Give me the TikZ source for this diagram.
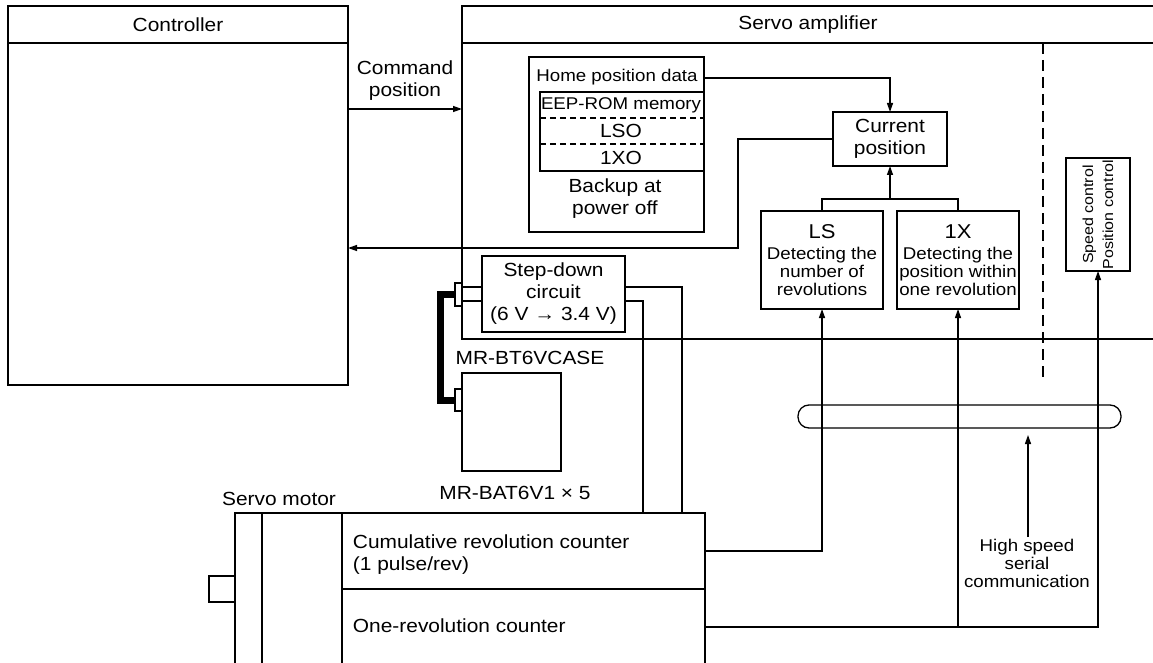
\documentclass[tikz,border=0pt]{standalone}
\usepackage{fontspec}
\setmainfont{Liberation Sans}[FakeStretch=1.1]
\usetikzlibrary{arrows.meta}
\begin{document}
\begin{tikzpicture}[x=1pt,y=-1pt,
  line width=1.3pt,
  box/.style={draw, line width=1.3pt, inner sep=0pt, outer sep=0pt, anchor=north west, align=center},
  big/.style={font=\fontsize{19}{22}\selectfont, align=center},
  small/.style={font=\fontsize{17}{18}\selectfont, align=center},
  arr/.style={-{Triangle[length=9pt,width=6pt]}},
  dsh/.style={line width=1.1pt, dash pattern=on 6pt off 4pt},
  vdsh/.style={line width=1.1pt, dash pattern=on 11pt off 6pt}]
\useasboundingbox (0,0) rectangle (1153,663);

% Controller
\node[box, minimum width=340pt, minimum height=379pt] (ctrl) at (8,6) {};
\draw (8,43) -- (348,43);
\node[big] (ctrltxt) at (178,25) {Controller};

% Servo amplifier frame
\coordinate (ampTL) at (462,6);
\coordinate (ampBL) at (462,339);
\draw (1153,6) -- (ampTL) -- (ampBL) -- (1153,339);
\draw (462,43) -- (1153,43);
\node[big] (amptxt) at (808,25) {Servo amplifier};

% Command position
\coordinate (cmdEnd) at (462,109);
\draw[arr] (ctrl.east |- cmdEnd) -- (cmdEnd);
\node[big] (cmdtxt) at (405,81) {Command\\position};

% Home position data box
\node[box, minimum width=175pt, minimum height=175pt] (home) at (529,57) {};
\node[small] (hpd) at (617,77) {Home position data};
\node[box, minimum width=164pt, minimum height=79pt] (eep) at (540,92) {};
\draw[dsh] (540,118) -- (704,118);
\draw[dsh] (540,144) -- (704,144);
\node[small] (eeptxt) at (621,105) {EEP-ROM memory};
\node[big] (lsotxt) at (621,131) {LSO};
\node[big] (xotxt) at (621,158) {1XO};
\node[big] (bkp) at (615,199) {Backup at\\power off};

% Current position
\node[box, big, minimum width=114pt, minimum height=54pt] (cur) at (833,112) {Current\\position};
\coordinate (hpdR) at (704,78);
\draw[arr] (hpdR) -| (cur.north);
\coordinate (retBend) at (738,139);
\coordinate (retEnd) at (348,248);
\draw[arr] (cur.west) -- (retBend) |- (retEnd);

% LS and 1X boxes
\node[box, small, minimum width=122pt, minimum height=98pt] (ls) at (761,211)
  {{\fontsize{20}{21}\selectfont LS}\\[3pt]Detecting the\\number of\\revolutions};
\node[box, small, minimum width=122pt, minimum height=98pt] (xone) at (897,211)
  {{\fontsize{20}{21}\selectfont 1X}\\[3pt]Detecting the\\position within\\one revolution};
\coordinate (join) at (890,199);
\draw (ls.north) |- (join) -| (xone.north);
\draw[arr] (join) -- (cur.south);

% Speed / position control
\node[box, minimum width=64pt, minimum height=113pt] (spd) at (1066,158) {};
\node[rotate=90, font=\fontsize{14.5}{20}\selectfont, align=center] (spdtxt) at (spd.center) {Speed control\\Position control};

% dashed separator
\coordinate (dshTop) at (1043,43);
\coordinate (dshBot) at (1043,383);
\draw[vdsh] (dshTop) -- (dshBot);

% Step-down circuit and battery case
\node[box, big, minimum width=143pt, minimum height=76pt] (sd) at (482,256) {Step-down\\circuit\\(6 V → 3.4 V)};
\node[box, minimum width=99pt, minimum height=98pt] (bat) at (462,373) {};
\draw[line width=7pt] (458,294.5) -- (440,294.5) -- (440,400) -- (458,400);
\node[box, fill=white, minimum width=7pt, minimum height=23pt] (conA) at (455,283) {};
\node[box, fill=white, minimum width=7pt, minimum height=22pt] (conB) at (455,389) {};
\coordinate (wA1) at (462,287);
\coordinate (wA2) at (462,301);
\draw (wA1) -- (sd.west |- wA1);
\draw (wA2) -- (sd.west |- wA2);
\coordinate (mTop1) at (682,513);
\coordinate (mTop2) at (643,513);
\draw (sd.east |- wA1) -| (mTop1);
\draw (sd.east |- wA2) -| (mTop2);
\node[big] (casetxt) at (530,358) {MR-BT6VCASE};
\node[big] (battxt) at (515,493) {MR-BAT6V1 × 5};

% Servo motor
\node[big] (smtxt) at (279,499) {Servo motor};
\draw (235,663) -- (235,513) -- (705,513) -- (705,663);
\draw (262,513) -- (262,663);
\draw (342,513) -- (342,663);
\draw (342,589) -- (705,589);
\node[box, minimum width=26pt, minimum height=26pt] (shaft) at (209,576) {};
\node[big, anchor=west, align=left] (cumtxt) at (349,555) {Cumulative revolution counter\\(1 pulse/rev)};
\node[big, anchor=west] (onetxt) at (349,626) {One-revolution counter};

% signal wires
\coordinate (cumR) at (705,551);
\coordinate (oneR) at (705,627);
\draw[arr] (cumR) -| (ls.south);
\draw[arr] (oneR) -| (spd.south);
\draw[arr] (xone.south |- oneR) -- (xone.south);

% serial cable
\node[draw, line width=1.3pt, rounded corners=11pt, minimum width=323pt, minimum height=23pt, inner sep=0pt, outer sep=0pt, anchor=north west] (cable) at (798,405) {};
\node[small, inner sep=1pt] (hstxt) at (1027,563) {High speed\\serial\\communication};
\coordinate (hsTip) at (1028,435);
\draw[arr] (hstxt.north -| hsTip) -- (hsTip);
\end{tikzpicture}
\end{document}
